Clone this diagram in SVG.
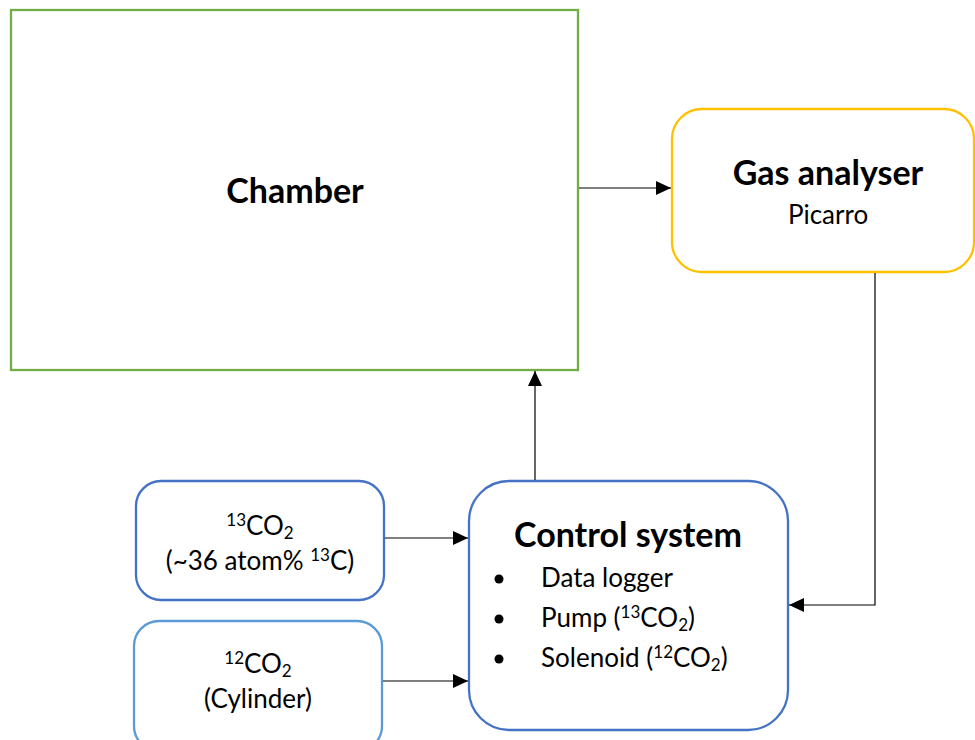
<svg xmlns="http://www.w3.org/2000/svg" width="975" height="740" viewBox="0 0 975 740">
<defs>
<marker id="ah" markerWidth="16" markerHeight="16" refX="15" refY="7" orient="auto" markerUnits="userSpaceOnUse" viewBox="0 0 16 14">
<path d="M0,0 L15,7 L0,14 z" fill="#000"/>
</marker>
<style>
text{font-family:Lato,"Open Sans","Liberation Sans",sans-serif;fill:#000}
.b{font-weight:bold;font-size:34px}
.t{font-size:26px}
.c{stroke:#000;stroke-width:1.2;fill:none;marker-end:url(#ah)}
.n{fill:#fff;stroke-width:2.3}
</style>
</defs>
<rect width="975" height="740" fill="#fff"/>
<g id="chamber">
<rect class="n" x="11" y="10" width="567" height="360" stroke="#70AD47" stroke-width="2.6"/>
<text class="b" x="295" y="203" text-anchor="middle">Chamber</text>
</g>
<g id="gas-analyser">
<rect class="n" x="672" y="109" width="302" height="163" rx="30" stroke="#FFC000"/>
<text class="b" x="828" y="185" text-anchor="middle">Gas analyser</text>
<text class="t" x="828" y="224" text-anchor="middle">Picarro</text>
</g>
<g id="control-system">
<rect class="n" x="469" y="481" width="319" height="249" rx="40" stroke="#4472C4"/>
<text class="b" x="628" y="547" text-anchor="middle">Control system</text>
<circle cx="499" cy="579" r="4.5"/>
<circle cx="499" cy="619" r="4.5"/>
<circle cx="499" cy="659" r="4.5"/>
<text class="t" x="541" y="587">Data logger</text>
<text class="t" x="541" y="627">Pump (<tspan font-size="17" dy="-9">13</tspan><tspan dy="9">CO</tspan><tspan font-size="17" dy="4">2</tspan><tspan dy="-4">)</tspan></text>
<text class="t" x="541" y="667">Solenoid (<tspan font-size="17" dy="-9">12</tspan><tspan dy="9">CO</tspan><tspan font-size="17" dy="4">2</tspan><tspan dy="-4">)</tspan></text>
</g>
<g id="co2-13">
<rect class="n" x="136" y="481" width="248" height="119" rx="25" stroke="#4472C4"/>
<text class="t" x="260" y="535" text-anchor="middle"><tspan font-size="17" dy="-9">13</tspan><tspan dy="9">CO</tspan><tspan font-size="17" dy="4">2</tspan></text>
<text class="t" x="260" y="570" text-anchor="middle">(~36 atom% <tspan font-size="17" dy="-9">13</tspan><tspan dy="9">C)</tspan></text>
</g>
<g id="co2-12">
<rect class="n" x="134" y="621" width="248" height="130" rx="25" stroke="#5B9BD5"/>
<text class="t" x="258" y="673" text-anchor="middle"><tspan font-size="17" dy="-9">12</tspan><tspan dy="9">CO</tspan><tspan font-size="17" dy="4">2</tspan></text>
<text class="t" x="258" y="708" text-anchor="middle">(Cylinder)</text>
</g>
<g id="connectors">
<path class="c" d="M579,188 H671"/>
<path class="c" d="M875,273 V605 H789"/>
<path class="c" d="M535,480 V371"/>
<path class="c" d="M385,538 H468"/>
<path class="c" d="M383,681 H468"/>
</g>
</svg>
